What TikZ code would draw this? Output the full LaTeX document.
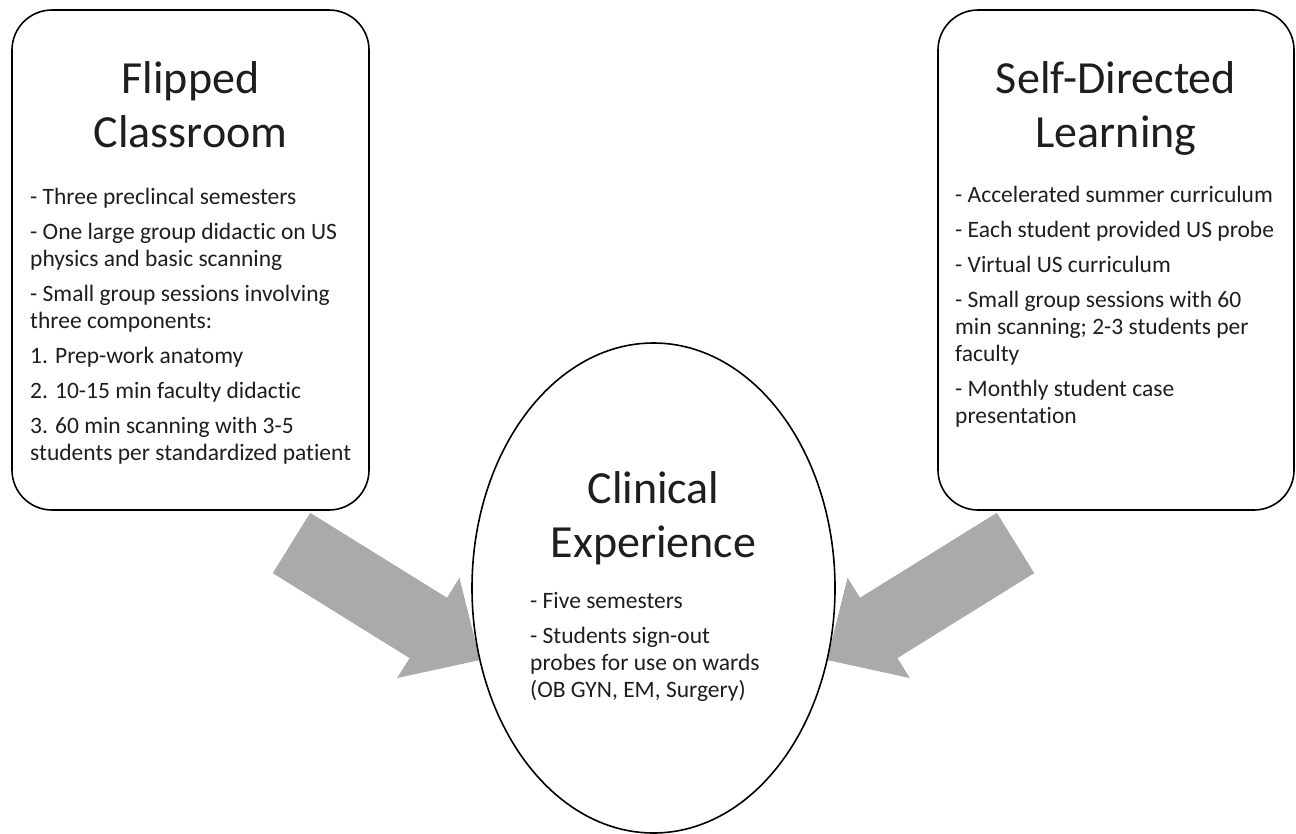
\documentclass[tikz,border=0pt]{standalone}
\usepackage{fontspec}
\setmainfont{Carlito}[Ligatures=NoCommon]
\usetikzlibrary{shapes.geometric,calc}
\definecolor{arrowgray}{RGB}{170,170,170}
\definecolor{inktext}{RGB}{30,30,30}
\tikzset{
  panel/.style={draw=black, line width=1.6pt, rounded corners=40pt, inner sep=0pt},
  oval/.style={draw=black, line width=1.6pt, ellipse, inner sep=0pt},
  titletext/.style={inner sep=0pt, align=center, anchor=base, text=inktext, font=\fontsize{46}{54}\selectfont},
  bodytext/.style={inner sep=0pt, align=left, anchor=base west, text=inktext, font=\fontsize{23.5}{27}\selectfont},
  blockfill/.style={fill=arrowgray},
}
\newcommand{\blkarrow}[2]{%
  \fill[blockfill]
    ($(#1)!35.5pt!90:(#2)$) --
    ($($(#1)!161pt!(#2)$)!35.5pt!90:(#2)$) --
    ($($(#1)!161pt!(#2)$)!59pt!90:(#2)$) --
    (#2) --
    ($($(#1)!161pt!(#2)$)!59pt!-90:(#2)$) --
    ($($(#1)!161pt!(#2)$)!35.5pt!-90:(#2)$) --
    ($(#1)!35.5pt!-90:(#2)$) -- cycle;}
\begin{document}
\begin{tikzpicture}[x=1pt,y=-1pt]
\useasboundingbox (0,0) rectangle (1296,833);
\fill[white] (0,0) rectangle (1296,833);

% arrows
\coordinate (la) at (291.5,543);
\coordinate (lb) at (480,660);
\coordinate (ra) at (1015.5,543);
\coordinate (rb) at (827,660);
\blkarrow{la}{lb}
\blkarrow{ra}{rb}

% panels
\node[panel, minimum width=357, minimum height=500] (fc) at (190.5,260) {};
\node[panel, minimum width=356, minimum height=500] (sd) at (1116,260) {};
\node[oval, minimum width=363, minimum height=490] (ce) at (653.5,588) {};

% left panel text (anchor = baseline of last line)
\node[titletext] (fct) at (190.5,147) {Flipped\\Classroom};
\node[bodytext] (fcb) at (30,460) {- Three preclincal semesters\\[8pt]
- One large group didactic on US\\
physics and basic scanning\\[8pt]
- Small group sessions involving\\
three components:\\[8pt]
1. Prep-work anatomy\\[8pt]
2. 10-15 min faculty didactic\\[8pt]
3. 60 min scanning with 3-5\\
students per standardized patient};

% right panel text
\node[titletext] (sdt) at (1116,147) {Self-Directed\\Learning};
\node[bodytext] (sdb) at (955,423) {- Accelerated summer curriculum\\[8pt]
- Each student provided US probe\\[8pt]
- Virtual US curriculum\\[8pt]
- Small group sessions with 60\\
min scanning; 2-3 students per\\
faculty\\[8pt]
- Monthly student case\\
presentation};

% ellipse text
\node[titletext] (cet) at (653.5,557) {Clinical\\Experience};
\node[bodytext] (ceb) at (530,697) {- Five semesters\\[8pt]
- Students sign-out\\
probes for use on wards\\
(OB GYN, EM, Surgery)};
\end{tikzpicture}
\end{document}
